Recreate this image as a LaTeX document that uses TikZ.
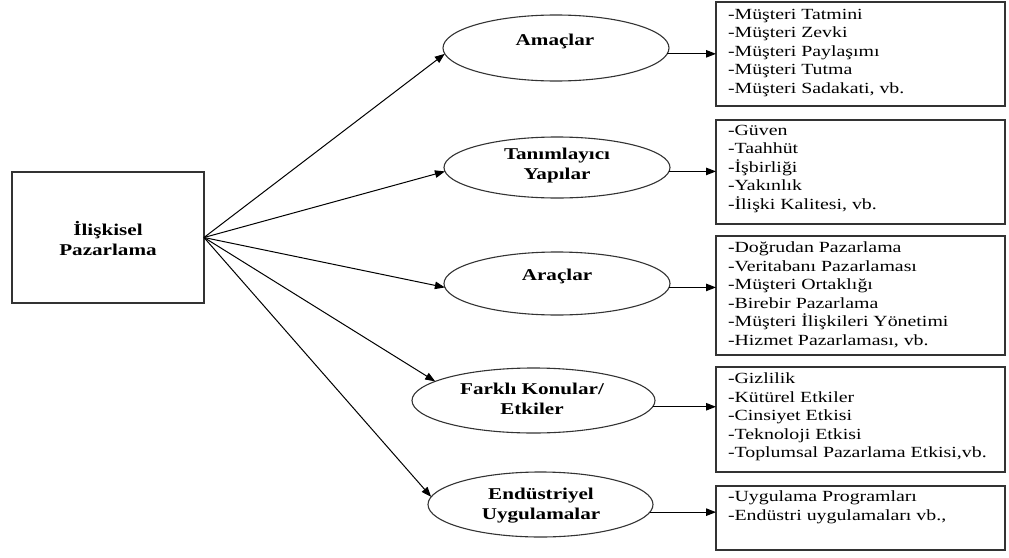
\documentclass[tikz,border=0pt]{standalone}
\usepackage{fontspec}
\setmainfont{Liberation Serif}[FakeStretch=1.28]
\usetikzlibrary{arrows.meta,shapes.geometric}

\begin{document}
\begin{tikzpicture}[x=1pt,y=-1pt,
  every node/.style={inner sep=0pt,outer sep=0pt},
  hub/.style={draw=black!80,line width=1.2pt,minimum width=192pt,minimum height=131pt},
  oval/.style={ellipse,draw=black!80,line width=1.1pt},
  head/.style={font=\fontsize{16.5}{20}\selectfont\bfseries,align=center,anchor=north,
    execute at begin node=\strut},
  listbox/.style={draw=black!80,line width=1.3pt,anchor=north west,minimum width=289pt},
  items/.style={font=\fontsize{15.5}{18.5}\selectfont,align=left,anchor=north west,
    execute at begin node=\strut},
  arr/.style={-{Triangle[length=10pt,width=7.5pt]},line width=1pt,black}
]
\useasboundingbox (0,0) rectangle (1009,557);

% central concept
\node[hub] (hub) at (108,237.5) {};
\node[head] (hubt) at (108,221.5) {İlişkisel\\Pazarlama};

% the five branches
\node[oval,minimum width=226pt,minimum height=66pt] (e1) at (556,48) {};
\node[head] (e1t) at (555,31.5) {Amaçlar};
\node[oval,minimum width=226pt,minimum height=61pt] (e2) at (557,167.5) {};
\node[head] (e2t) at (557,148.5) {Tanımlayıcı\\Yapılar};
\node[oval,minimum width=226pt,minimum height=63pt] (e3) at (557,283.5) {};
\node[head] (e3t) at (557,266.5) {Araçlar};
\node[oval,minimum width=243pt,minimum height=65pt] (e4) at (533.5,400.5) {};
\node[head] (e4t) at (532,383.5) {Farklı Konular/\\Etkiler};
\node[oval,minimum width=225pt,minimum height=65pt] (e5) at (540.5,504.5) {};
\node[head] (e5t) at (541,488.5) {Endüstriyel\\Uygulamalar};

% detail boxes
\node[listbox,minimum height=104pt] (b1) at (716,2) {};
\node[items] (t1) at (728,9) {-Müşteri Tatmini\\-Müşteri Zevki\\-Müşteri Paylaşımı\\-Müşteri Tutma\\-Müşteri Sadakati, vb.};
\node[listbox,minimum height=104pt] (b2) at (716,120) {};
\node[items] (t2) at (728,125) {-Güven\\-Taahhüt\\-İşbirliği\\-Yakınlık\\-İlişki Kalitesi, vb.};
\node[listbox,minimum height=119pt] (b3) at (716,236) {};
\node[items] (t3) at (728,242) {-Doğrudan Pazarlama\\-Veritabanı Pazarlaması\\-Müşteri Ortaklığı\\-Birebir Pazarlama\\-Müşteri İlişkileri Yönetimi\\-Hizmet Pazarlaması, vb.};
\node[listbox,minimum height=105pt] (b4) at (716,367) {};
\node[items] (t4) at (728,373) {-Gizlilik\\-Kütürel Etkiler\\-Cinsiyet Etkisi\\-Teknoloji Etkisi\\-Toplumsal Pazarlama Etkisi,vb.};
\node[listbox,minimum height=64pt] (b5) at (716,486) {};
\node[items] (t5) at (728,491) {-Uygulama Programları\\-Endüstri uygulamaları vb.,};

% connectors from the centre to the branches
\draw[arr] (hub.east) -- (e1.183.5);
\draw[arr] (hub.east) -- (e2.182.8);
\draw[arr] (hub.east) -- (e3.182.5);
\draw[arr] (hub.east) -- (e4.169);
\draw[arr] (hub.east) -- (e5.176.5);

% connectors from the branches to their details
\draw[arr] (e1.-3) -- (e1.-3 -| b1.west);
\draw[arr] (e2.-2) -- (e2.-2 -| b2.west);
\draw[arr] (e3.-2) -- (e3.-2 -| b3.west);
\draw[arr] (e4.-3) -- (e4.-3 -| b4.west);
\draw[arr] (e5.-4) -- (e5.-4 -| b5.west);
\end{tikzpicture}
\end{document}
